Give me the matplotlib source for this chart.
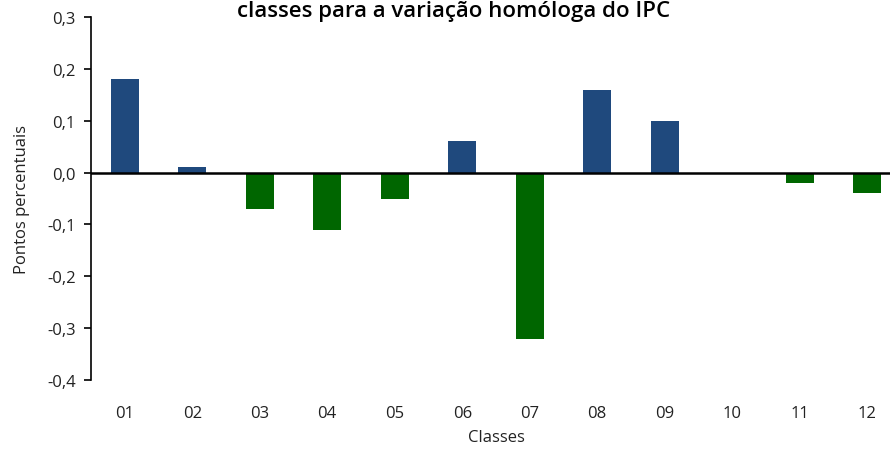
import matplotlib
matplotlib.use("Agg")
import matplotlib.pyplot as plt

categories = ["01", "02", "03", "04", "05", "06", "07", "08", "09", "10", "11", "12"]
values = [0.18, 0.01, -0.07, -0.11, -0.05, 0.06, -0.32, 0.16, 0.10, 0.0, -0.02, -0.04]
yticks = [-0.4, -0.3, -0.2, -0.1, 0.0, 0.1, 0.2, 0.3]
ytick_labels = ["-0,4", "-0,3", "-0,2", "-0,1", "0,0", "0,1", "0,2", "0,3"]

plt.rcParams['font.family'] = ['Open Sans', 'DejaVu Sans']

W, H = 890, 452
fig = plt.figure(figsize=(W/100, H/100), dpi=100)
left, right, top, bottom = 91, 901, 18, 381
ax = fig.add_axes([left/W, 1 - bottom/H, (right-left)/W, (bottom-top)/H])

colors = ["#1F497D" if v >= 0 else "#006600" for v in values]
x = list(range(len(categories)))
ax.bar(x, values, width=0.41, color=colors, zorder=2)
ax.axhline(0, color="black", lw=1.8, zorder=3)

ax.set_xlim(-0.5, len(categories) - 0.5)
ax.set_ylim(-0.4, 0.3)
ax.set_yticks(yticks)
ax.set_yticklabels(ytick_labels, fontsize=12, color="#222222")
ax.set_xticks(x)
ax.set_xticklabels(categories, fontsize=12, color="#222222")
ax.tick_params(axis="x", length=0, pad=18)
ax.tick_params(axis="y", length=5, width=1.2, pad=6)
for s in ["top", "right", "bottom"]:
    ax.spines[s].set_visible(False)
ax.spines["left"].set_linewidth(1.2)

ax.set_ylabel("Pontos percentuais", fontsize=12, color="#222222", labelpad=12)
ax.set_xlabel("Classes", fontsize=12, color="#222222", labelpad=6)

fig.text(0.51, 1 - 17/H, "classes para a variação homóloga do IPC", ha="center",
         va="baseline", fontsize=16, fontweight="semibold", color="black")

fig.savefig("out.png", dpi=100)
